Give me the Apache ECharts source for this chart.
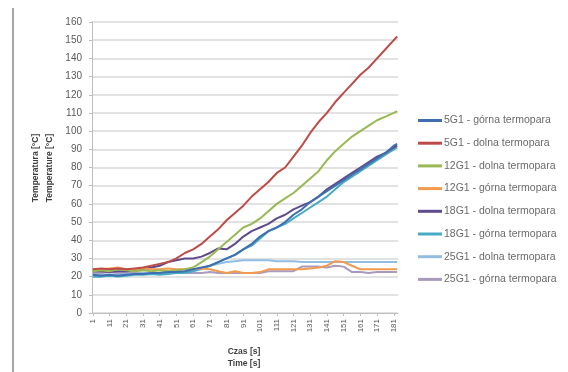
<!DOCTYPE html>
<html><head><meta charset="utf-8">
<script src="https://cdn.jsdelivr.net/npm/echarts@6/dist/echarts.min.js"></script>
<style>html,body{margin:0;padding:0;background:#fff}#c{width:568px;height:372px}</style>
</head><body><div id="c"></div>
<script>
// time samples [s]
const times = [1,6,11,16,21,26,31,36,41,46,51,56,61,66,71,76,81,86,91,96,101,106,111,116,121,126,131,136,141,146,151,156,161,166,171,176,181,183];
const xTickLabels = [1,11,21,31,41,51,61,71,81,91,101,111,121,131,141,151,161,171,181];
const yTicks = [0,10,20,30,40,50,60,70,80,90,100,110,120,130,140,150,160];
const seriesNames = ['5G1 - górna termopara','5G1 - dolna termopara','12G1 - dolna termopara','12G1 - górna termopara','18G1 - dolna termopara','18G1 - górna termopara','25G1 - dolna termopara','25G1 - górna termopara'];

const g5_gorna  = [21,20.5,21,20.5,21,21.5,21.5,22,22,22.5,22.5,23,24,25,26,28,30,32,35,38,42,45,47,50,54,57,61,64,67,70,73,76,79,82,85,88,92,93];
const g5_dolna  = [24,24.5,24,24.5,24,24.5,25,26,27,28,30,33,35,38,42,46,51,55,59,64,68,72,77,80,86,92,99,105,110,116,121,126,131,135,140,145,150,152];
const g12_dolna = [23,23.5,23,24,23.5,23,23.5,23,23.5,23,23.5,24,25,28,31,35,39,43,47,49,52,56,60,63,66,70,74,78,84,89,93,97,100,103,106,108,110,111];
const g12_gorna = [24,24,24.5,25,24,24,24.5,24,24,24.5,24,24,24,24.5,24,23,22,23,22,22,22.5,24,24,24,24,24,24.5,25,26,28.5,28,26,24,24,24,24,24,24];
const g18_dolna = [23,23,22.5,23,23,23.5,24,25,26,28,29,30,30,31,33,35.5,35,38,42,45,47,49,52,54,57,59,61,64,68,71,74,77,80,83,86,88,91,92];
const g18_gorna = [20,20,20.5,20,20.5,21,21,21.5,21,21.5,22,22,23,24.5,26,28,30,32,35,37,41,45,47,49,52,55,58,61,64,68,72,75,78,81,84,87,90,91];
const g25_dolna = [21,21,21,21,21.5,21.5,22,22,22,22,22.5,22.5,23,24,26,27,28,28.5,29,29,29,29,28.5,28.5,28.5,28,28,28,28,28,28,28,28,28,28,28,28,28];
const g25_gorna = [22,22,22.5,22,22,22.5,22,22,22,22.5,22,22,22,22,22.5,22,22,22,22,22,22,23,23,23,23,25.5,25.5,25.5,25,26,25.5,22.5,22.5,22,22.5,22.5,22.5,22.5];

const allValues = [g5_gorna,g5_dolna,g12_dolna,g12_gorna,g18_dolna,g18_gorna,g25_dolna,g25_gorna];
const colors = ['#3F6FB0','#BE4B48','#98B954','#F39A4E','#5F4A8B','#46AAC5','#93BCE3','#A99BBD'];

const chart = echarts.init(document.getElementById('c'), null, {renderer:'canvas'});
const series = seriesNames.map((n,i)=>({
  name:n, type:'line', showSymbol:false, symbol:'none',
  data: times.map((t,k)=>[t, allValues[i][k]]),
  lineStyle:{width:2, color:colors[i]}, itemStyle:{color:colors[i]},
  z: 10 - i
}));

chart.setOption({
  animation:false,
  backgroundColor:'#fff',
  grid:{left:92, right:170, top:22, bottom:59, containLabel:false},
  xAxis:{
    type:'value', min:0.5, max:183.5,
    axisLine:{show:true, onZero:true, lineStyle:{color:'#BFBFBF', width:1}},
    axisTick:{show:true, length:3, lineStyle:{color:'#BFBFBF'}, customValues:xTickLabels},
    splitLine:{show:false},
    axisLabel:{customValues:xTickLabels, rotate:90, fontSize:8, color:'#595959', fontFamily:'Liberation Sans', margin:6}
  },
  yAxis:{
    type:'value', min:0, max:160, interval:10,
    axisLine:{show:true, lineStyle:{color:'#BFBFBF', width:1}},
    axisTick:{show:true, length:3, lineStyle:{color:'#BFBFBF'}},
    splitLine:{show:true, lineStyle:{color:'#D9D9D9', width:1.5}},
    axisLabel:{fontSize:10, color:'#595959', fontFamily:'Liberation Sans', margin:10}
  },
  legend:{
    orient:'vertical', left:413, top:110, itemWidth:24, itemHeight:3, itemGap:11.7,
    icon:'rect',
    textStyle:{fontSize:10.5, color:'#6a6a6a', fontFamily:'Liberation Sans', padding:[0,0,0,-3]},
    data: seriesNames
  },
  graphic:[
    {type:'rect', shape:{x:12, y:8, width:2, height:364}, style:{fill:'#A6A6A6'}},
    {type:'text', x:36, y:168, rotation:Math.PI/2, style:{text:'Temperatura [°C]', fontSize:8.5, fontWeight:'bold', fill:'#404040', fontFamily:'Liberation Sans', align:'center', verticalAlign:'middle'}},
    {type:'text', x:50, y:168, rotation:Math.PI/2, style:{text:'Temperature [°C]', fontSize:8.5, fontWeight:'bold', fill:'#404040', fontFamily:'Liberation Sans', align:'center', verticalAlign:'middle'}},
    {type:'text', x:244, y:352, style:{text:'Czas [s]', fontSize:8.5, fontWeight:'bold', fill:'#404040', fontFamily:'Liberation Sans', align:'center', verticalAlign:'middle'}},
    {type:'text', x:244, y:364, style:{text:'Time [s]', fontSize:8.5, fontWeight:'bold', fill:'#404040', fontFamily:'Liberation Sans', align:'center', verticalAlign:'middle'}}
  ],
  series: series
});
</script></body></html>
